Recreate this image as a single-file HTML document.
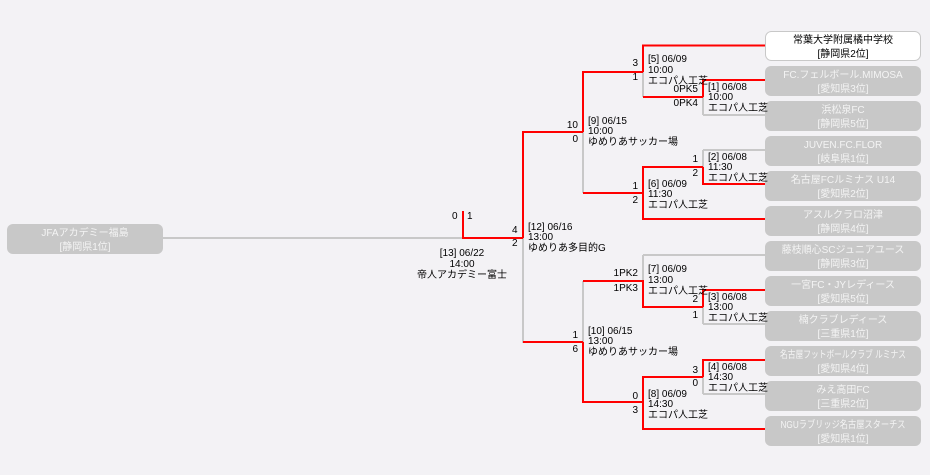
<!DOCTYPE html>
<html><head><meta charset="utf-8"><style>
html,body{margin:0;padding:0;background:#f3f2f5;}
svg{display:block;}
text{font-family:"Liberation Sans","Noto Sans CJK JP",sans-serif;font-size:10px;fill:#000;}
.w{fill:#f4f4f4;text-anchor:middle;}
.b{text-anchor:middle;}
.r{text-anchor:end;}
</style></head><body>
<svg width="930" height="475" viewBox="0 0 930 475">
<rect width="930" height="475" fill="#f3f2f5"/>
<g stroke-width="2" fill="none">
<g stroke="#c8c8c8">
<line x1="163" y1="238" x2="463" y2="238"/>
<line x1="523" y1="238" x2="523" y2="343"/>
<line x1="583" y1="132" x2="583" y2="193"/>
<line x1="643" y1="71" x2="643" y2="97"/>
<line x1="703" y1="97" x2="703" y2="115"/>
<line x1="703" y1="115" x2="766" y2="115"/>
<line x1="703" y1="150" x2="766" y2="150"/>
<line x1="703" y1="150" x2="703" y2="167"/>
<line x1="583" y1="281" x2="583" y2="342"/>
<line x1="643" y1="255" x2="766" y2="255"/>
<line x1="643" y1="255" x2="643" y2="281"/>
<line x1="703" y1="307" x2="703" y2="324"/>
<line x1="703" y1="324" x2="766" y2="324"/>
<line x1="703" y1="377" x2="703" y2="394"/>
<line x1="703" y1="394" x2="766" y2="394"/>
</g>
<g stroke="#ff0000">
<polyline points="463,211 463,238 523,238"/>
<polyline points="523,238 523,132 583,132"/>
<line x1="523" y1="342" x2="583" y2="342"/>
<polyline points="583,132 583,72 643,72"/>
<polyline points="643,72 643,45.5 766,45.5"/>
<line x1="583" y1="193" x2="643" y2="193"/>
<polyline points="703,97 643,97"/>
<polyline points="703,97 703,80 766,80"/>
<polyline points="703,167 643,167 643,219 766,219"/>
<polyline points="703,167 703,184 766,184"/>
<polyline points="583,281 643,281 643,307 703,307"/>
<polyline points="703,307 703,290 766,290"/>
<polyline points="583,342 583,402 643,402"/>
<polyline points="703,377 643,377 643,429 766,429"/>
<polyline points="703,377 703,360 766,360"/>
</g>
</g>
<rect x="7" y="224" width="156" height="30" rx="6" fill="#c8c8c8"/>
<text class="w" x="85" y="236">JFAアカデミー福島</text>
<text class="w" x="85" y="250">[静岡県1位]</text>
<rect x="765.5" y="31.5" width="155" height="29" rx="6" fill="#fff" stroke="#c8c8c8"/>
<text class="b" x="843" y="43">常葉大学附属橘中学校</text>
<text class="b" x="843" y="57">[静岡県2位]</text>
<g fill="#c8c8c8">
<rect x="765" y="66" width="156" height="30" rx="6"/>
<rect x="765" y="101" width="156" height="30" rx="6"/>
<rect x="765" y="136" width="156" height="30" rx="6"/>
<rect x="765" y="171" width="156" height="30" rx="6"/>
<rect x="765" y="206" width="156" height="30" rx="6"/>
<rect x="765" y="241" width="156" height="30" rx="6"/>
<rect x="765" y="276" width="156" height="30" rx="6"/>
<rect x="765" y="311" width="156" height="30" rx="6"/>
<rect x="765" y="346" width="156" height="30" rx="6"/>
<rect x="765" y="381" width="156" height="30" rx="6"/>
<rect x="765" y="416" width="156" height="30" rx="6"/>
</g>
<text class="w" x="843" y="78">FC.フェルボール.MIMOSA</text><text class="w" x="843" y="92">[愛知県3位]</text>
<text class="w" x="843" y="113">浜松泉FC</text><text class="w" x="843" y="127">[静岡県5位]</text>
<text class="w" x="843" y="148">JUVEN.FC.FLOR</text><text class="w" x="843" y="162">[岐阜県1位]</text>
<text class="w" x="843" y="183">名古屋FCルミナス U14</text><text class="w" x="843" y="197">[愛知県2位]</text>
<text class="w" x="843" y="218">アスルクラロ沼津</text><text class="w" x="843" y="232">[静岡県4位]</text>
<text class="w" x="843" y="253">藤枝順心SCジュニアユース</text><text class="w" x="843" y="267">[静岡県3位]</text>
<text class="w" x="843" y="288">一宮FC・JYレディース</text><text class="w" x="843" y="302">[愛知県5位]</text>
<text class="w" x="843" y="323">楠クラブレディース</text><text class="w" x="843" y="337">[三重県1位]</text>
<text class="w" x="843" y="358" textLength="126" lengthAdjust="spacingAndGlyphs">名古屋フットボールクラブ ルミナス</text><text class="w" x="843" y="372">[愛知県4位]</text>
<text class="w" x="843" y="393">みえ高田FC</text><text class="w" x="843" y="407">[三重県2位]</text>
<text class="w" x="843" y="428" textLength="125" lengthAdjust="spacingAndGlyphs">NGUラブリッジ名古屋スターチス</text><text class="w" x="843" y="442">[愛知県1位]</text>
<text x="452" y="219">0</text><text x="467" y="219">1</text>
<text class="b" x="462" y="256">[13] 06/22</text>
<text class="b" x="462" y="267">14:00</text>
<text class="b" x="462" y="278">帝人アカデミー富士</text>
<text x="512" y="233">4</text><text x="512" y="246">2</text>
<text x="528" y="230">[12] 06/16</text><text x="528" y="240">13:00</text><text x="528" y="251">ゆめりあ多目的G</text>
<text class="r" x="578" y="128">10</text><text class="r" x="578" y="142">0</text>
<text x="588" y="124">[9] 06/15</text><text x="588" y="134">10:00</text><text x="588" y="145">ゆめりあサッカー場</text>
<text class="r" x="578" y="338">1</text><text class="r" x="578" y="352">6</text>
<text x="588" y="334">[10] 06/15</text><text x="588" y="344">13:00</text><text x="588" y="355">ゆめりあサッカー場</text>
<text class="r" x="638" y="66">3</text><text class="r" x="638" y="80">1</text>
<text x="648" y="62">[5] 06/09</text><text x="648" y="73">10:00</text><text x="648" y="84">エコパ人工芝</text>
<text class="r" x="698" y="92">0PK5</text><text class="r" x="698" y="106">0PK4</text>
<text x="708" y="90">[1] 06/08</text><text x="708" y="100">10:00</text><text x="708" y="111">エコパ人工芝</text>
<text class="r" x="698" y="162">1</text><text class="r" x="698" y="176">2</text>
<text x="708" y="160">[2] 06/08</text><text x="708" y="170">11:30</text><text x="708" y="181">エコパ人工芝</text>
<text class="r" x="638" y="189">1</text><text class="r" x="638" y="203">2</text>
<text x="648" y="187">[6] 06/09</text><text x="648" y="197">11:30</text><text x="648" y="208">エコパ人工芝</text>
<text class="r" x="638" y="276">1PK2</text><text class="r" x="638" y="291">1PK3</text>
<text x="648" y="272">[7] 06/09</text><text x="648" y="283">13:00</text><text x="648" y="294">エコパ人工芝</text>
<text class="r" x="698" y="302">2</text><text class="r" x="698" y="318">1</text>
<text x="708" y="300">[3] 06/08</text><text x="708" y="310">13:00</text><text x="708" y="321">エコパ人工芝</text>
<text class="r" x="698" y="373">3</text><text class="r" x="698" y="386">0</text>
<text x="708" y="370">[4] 06/08</text><text x="708" y="380">14:30</text><text x="708" y="391">エコパ人工芝</text>
<text class="r" x="638" y="399">0</text><text class="r" x="638" y="413">3</text>
<text x="648" y="397">[8] 06/09</text><text x="648" y="407">14:30</text><text x="648" y="418">エコパ人工芝</text>
</svg>
</body></html>
